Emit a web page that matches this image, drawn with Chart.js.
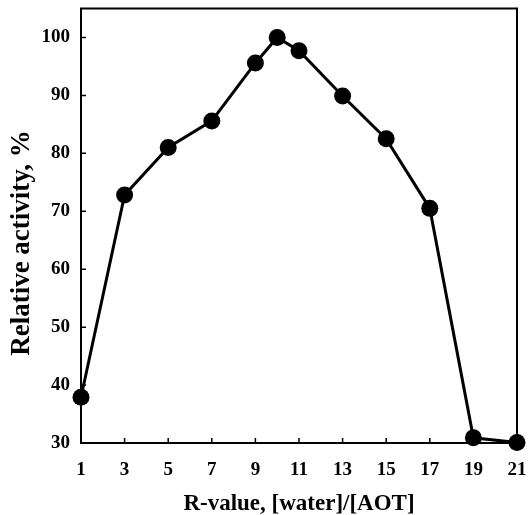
<!DOCTYPE html>
<html>
<head>
<meta charset="utf-8">
<script src="https://cdn.jsdelivr.net/npm/chart.js@4/dist/chart.umd.min.js"></script>
<style>
    html, body { margin: 0; padding: 0; background: #fff; }
    #wrap { width: 528px; height: 515px; position: relative; }
</style>
</head>
<body>
<div id="wrap"><canvas id="chart"></canvas></div>
<script>
// R-value, [water]/[AOT]
const rValues = [1, 3, 5, 7, 9, 10, 11, 13, 15, 17, 19, 21];
// Relative activity, %
const activity = [37.9, 72.8, 81.0, 85.6, 95.6, 100, 97.7, 89.9, 82.5, 70.5, 30.9, 30.1];
const xTicks = [1, 3, 5, 7, 9, 11, 13, 15, 17, 19, 21];
const yTicks = [30, 40, 50, 60, 70, 80, 90, 100];

const serif = '"Liberation Serif", "DejaVu Serif", serif';

// Frame round the plot, inward tick marks and the y title
const framePlugin = {
    id: 'frame',
    afterDraw(chart) {
        const ctx = chart.ctx;
        const a = chart.chartArea;
        const xs = chart.scales.x;
        const ys = chart.scales.y;
        ctx.save();
        ctx.strokeStyle = '#000';
        ctx.lineWidth = 2;
        ctx.strokeRect(a.left, a.top, a.right - a.left, a.bottom - a.top);
        ctx.lineWidth = 1.5;
        ctx.beginPath();
        for (let v of xTicks) {
            let px = xs.getPixelForValue(v);
            ctx.moveTo(px, a.bottom);
            ctx.lineTo(px, a.bottom - 5);
        }
        for (let v of yTicks) {
            let py = ys.getPixelForValue(v);
            ctx.moveTo(a.left, py);
            ctx.lineTo(a.left + 5, py);
        }
        ctx.stroke();
        // y axis title
        ctx.translate(22, 243);
        ctx.rotate(-Math.PI / 2);
        ctx.font = 'bold 27px ' + serif;
        ctx.fillStyle = '#000';
        ctx.textAlign = 'center';
        ctx.textBaseline = 'middle';
        ctx.fillText('Relative activity, %', 0, 0);
        ctx.restore();
    }
};

new Chart(document.getElementById('chart'), {
    type: 'line',
    data: {
        labels: rValues,
        datasets: [{
            data: rValues.map((x, i) => ({x: x, y: activity[i]})),
            borderColor: '#000',
            backgroundColor: '#000',
            borderWidth: 3,
            pointRadius: 8.5,
            pointBackgroundColor: '#000',
            pointBorderWidth: 0,
            tension: 0,
            clip: false
        }]
    },
    options: {
        responsive: true,
        maintainAspectRatio: false,
        animation: false,
        layout: { padding: { top: 7, right: 11, left: 0, bottom: 0 } },
        plugins: {
            legend: { display: false },
            tooltip: { enabled: false }
        },
        scales: {
            x: {
                type: 'linear',
                min: 1,
                max: 21,
                afterBuildTicks: (s) => { s.ticks = xTicks.map(v => ({value: v})); },
                afterFit: (s) => {
                    s.height = 72;
                    s.paddingLeft = 0;
                    s.paddingRight = 0;
                },
                grid: { display: false, drawTicks: false },
                border: { display: false },
                ticks: {
                    color: '#000',
                    padding: 16,
                    maxRotation: 0,
                    font: { family: serif, size: 19, weight: 'bold' }
                },
                title: {
                    display: true,
                    text: 'R-value, [water]/[AOT]',
                    color: '#000',
                    padding: { top: 4, bottom: -3 },
                    font: { family: serif, size: 23, weight: 'bold' }
                }
            },
            y: {
                min: 30,
                max: 105,
                afterBuildTicks: (s) => { s.ticks = yTicks.map(v => ({value: v})); },
                afterFit: (s) => {
                    s.width = 81;
                    s.paddingTop = 0;
                    s.paddingBottom = 0;
                },
                grid: { display: false, drawTicks: false },
                border: { display: false },
                ticks: {
                    color: '#000',
                    padding: 11,
                    font: { family: serif, size: 19, weight: 'bold' }
                }
            }
        }
    },
    plugins: [framePlugin]
});
</script>
</body>
</html>
